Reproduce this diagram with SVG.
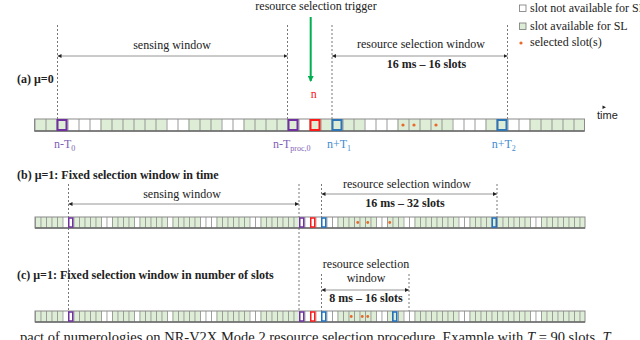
<svg xmlns="http://www.w3.org/2000/svg" width="640" height="340" viewBox="0 0 640 340">
<style>
.serif{font-family:"Liberation Serif","Times New Roman",serif;font-size:12px;fill:#222}
.bold{font-weight:bold}
.sans{font-family:"Liberation Sans",Arial,sans-serif;font-size:11px;fill:#222}
.g{fill:#deedd5}
.bar{fill:none;stroke:#8a8a8a;stroke-width:1}
.barb{stroke:#6a6a6a;stroke-width:1.5}
.dash{stroke:#555;stroke-width:0.8;stroke-dasharray:2,2;fill:none}
.arr{stroke:#8a8a8a;stroke-width:0.9;fill:none;marker-start:url(#ah);marker-end:url(#ah)}
.pA{fill:none;stroke:#7030a0;stroke-width:2}
.rA{fill:none;stroke:#ff1a1a;stroke-width:2}
.bA{fill:none;stroke:#2e75b6;stroke-width:2}
.pB{fill:none;stroke:#7030a0;stroke-width:1.5}
.rB{fill:none;stroke:#ff1a1a;stroke-width:1.5}
.bB{fill:none;stroke:#1f70c0;stroke-width:1.5}
.dot{fill:#e8692a}
.lp{fill:#7f5fb5}
.lb{fill:#3f8ccf}
</style>
<defs>
<marker id="ah" viewBox="0 0 6 6" refX="6" refY="3" markerWidth="4" markerHeight="4" markerUnits="userSpaceOnUse" orient="auto-start-reverse"><path d="M0,0 L6,3 L0,6 z" fill="#222"/></marker>
<marker id="gh" viewBox="0 0 6 6" refX="5" refY="3" markerWidth="6" markerHeight="6" markerUnits="userSpaceOnUse" orient="auto"><path d="M0,0 L6,3 L0,6 z" fill="#00b050"/></marker>
<pattern id="sepA" x="34.5" y="0" width="11" height="340" patternUnits="userSpaceOnUse"><rect x="0" y="0" width="0.9" height="340" fill="#8c8c8c"/></pattern>
<pattern id="sepB" x="35" y="0" width="5.5" height="340" patternUnits="userSpaceOnUse"><rect x="0" y="0" width="0.8" height="340" fill="#8c8c8c"/></pattern>
</defs>

<g id="connectors">
<line class="dash" x1="57.5" y1="25" x2="57.5" y2="119"/>
<line class="dash" x1="287.5" y1="25" x2="287.5" y2="119"/>
<line class="dash" x1="332" y1="25" x2="332" y2="119"/>
<line class="dash" x1="507.5" y1="25" x2="507.5" y2="119"/>
<line class="arr" x1="57.5" y1="56" x2="287.5" y2="56"/>
<line class="arr" x1="332" y1="56" x2="507.5" y2="56"/>
<line x1="310.7" y1="17" x2="310.7" y2="81" stroke="#00b050" stroke-width="2" marker-end="url(#gh)"/>
<line class="dash" x1="68.5" y1="184" x2="68.5" y2="311"/>
<line class="dash" x1="299" y1="184" x2="299" y2="311"/>
<line class="dash" x1="321.5" y1="184" x2="321.5" y2="217"/>
<line class="dash" x1="497" y1="184" x2="497" y2="217"/>
<line class="arr" x1="68.5" y1="204" x2="299" y2="204"/>
<line class="arr" x1="321.5" y1="194" x2="497" y2="194"/>
<line class="dash" x1="321.5" y1="274" x2="321.5" y2="311"/>
<line class="dash" x1="409" y1="274" x2="409" y2="311"/>
<line class="arr" x1="321.5" y1="290" x2="409" y2="290"/>
<polygon points="602.5,105.5 606,107.3 602.5,109" fill="#222"/>
</g>

<g id="trigger">
<text class="serif" x="316" y="9.5" text-anchor="middle">resource selection trigger</text>
<text class="serif" x="313.7" y="98" text-anchor="middle" style="fill:#ff1a1a">n</text>
</g>

<g id="legend">
<rect x="519.5" y="5" width="6.5" height="6.5" fill="#fff" stroke="#777" stroke-width="0.8"/>
<text class="serif" x="530" y="11.5">slot not available for SL</text>
<rect x="519.5" y="23" width="6.5" height="6.5" class="g" stroke="#777" stroke-width="0.8"/>
<text class="serif" x="530" y="29.5">slot available for SL</text>
<circle class="dot" cx="521" cy="43" r="1.6"/>
<text class="serif" x="530" y="46">selected slot(s)</text>
</g>

<g id="row-a">
<text class="serif bold" x="17" y="83">(a) μ=0</text>
<text class="serif" x="172" y="49" text-anchor="middle">sensing window</text>
<text class="serif" x="421" y="48" text-anchor="middle">resource selection window</text>
<text class="serif bold" x="426.5" y="68" text-anchor="middle">16 ms – 16 slots</text>
<text class="sans" x="597" y="119">time</text>
<rect x="34.5" y="119" width="550" height="12" fill="#fff"/>
<rect class="g" x="34.5" y="119" width="33" height="12"/>
<rect class="g" x="100.5" y="119" width="66" height="12"/>
<rect class="g" x="188.5" y="119" width="33" height="12"/>
<rect class="g" x="243.5" y="119" width="55" height="12"/>
<rect class="g" x="309.5" y="119" width="55" height="12"/>
<rect class="g" x="397.5" y="119" width="55" height="12"/>
<rect class="g" x="485.5" y="119" width="22" height="12"/>
<rect class="g" x="529.5" y="119" width="55" height="12"/>
<rect x="34.5" y="119" width="550" height="12" fill="url(#sepA)"/>
<rect class="bar" x="34.5" y="119" width="550" height="12"/>
<line class="barb" x1="34.5" y1="131" x2="584.5" y2="131"/>
<circle class="dot" cx="403" cy="125" r="1.6"/>
<circle class="dot" cx="414" cy="125" r="1.6"/>
<circle class="dot" cx="436" cy="125" r="1.6"/>
<rect class="pA" x="57.5" y="120" width="9" height="10"/>
<rect class="pA" x="288.5" y="120" width="9" height="10"/>
<rect class="rA" x="310.5" y="120" width="9" height="10"/>
<rect class="bA" x="332.5" y="120" width="9" height="10"/>
<rect class="bA" x="497.5" y="120" width="9" height="10"/>
<text class="serif lp" x="54" y="147.5">n-T<tspan font-size="8" dy="3">0</tspan></text>
<text class="serif lp" x="273" y="147.5">n-T<tspan font-size="8" dy="3">proc,0</tspan></text>
<text class="serif lb" x="327" y="147.5">n+T<tspan font-size="8" dy="3">1</tspan></text>
<text class="serif lb" x="491.7" y="147.5">n+T<tspan font-size="8" dy="3">2</tspan></text>
</g>

<g id="row-b">
<text class="serif bold" x="17" y="178.5">(b) μ=1: Fixed selection window in time</text>
<text class="serif" x="182" y="198" text-anchor="middle">sensing window</text>
<text class="serif" x="407" y="188" text-anchor="middle">resource selection window</text>
<text class="serif bold" x="405" y="207" text-anchor="middle">16 ms – 32 slots</text>
<rect x="35" y="217" width="550" height="11" fill="#fff"/>
<g class="g">
<rect x="35" y="217" width="27.5" height="11"/>
<rect x="73.5" y="217" width="27.5" height="11"/>
<rect x="112" y="217" width="22" height="11"/>
<rect x="139.5" y="217" width="27.5" height="11"/>
<rect x="172.5" y="217" width="27.5" height="11"/>
<rect x="216.5" y="217" width="33" height="11"/>
<rect x="260.5" y="217" width="38.5" height="11"/>
<rect x="337.5" y="217" width="38.5" height="11"/>
<rect x="387" y="217" width="16.5" height="11"/>
<rect x="414.5" y="217" width="44" height="11"/>
<rect x="469.5" y="217" width="60.5" height="11"/>
<rect x="541" y="217" width="44" height="11"/>
</g>
<rect x="35" y="217" width="550" height="11" fill="url(#sepB)"/>
<rect class="bar" x="35" y="217" width="550" height="11"/>
<line class="barb" x1="35" y1="228" x2="585" y2="228"/>
<circle class="dot" cx="357.75" cy="222.5" r="1.4"/>
<circle class="dot" cx="367.75" cy="222.5" r="1.4"/>
<circle class="dot" cx="389.75" cy="222.5" r="1.4"/>
<rect class="pB" x="68.75" y="218" width="4" height="9"/>
<rect class="pB" x="299.75" y="218" width="4" height="9"/>
<rect class="rB" x="310.75" y="218" width="4" height="9"/>
<rect class="bB" x="321.75" y="218" width="4" height="9"/>
<rect class="bB" x="492.25" y="218" width="4" height="9"/>
</g>

<g id="row-c">
<text class="serif bold" x="17" y="278.5">(c) μ=1: Fixed selection window in number of slots</text>
<text class="serif" x="366" y="268" text-anchor="middle">resource selection</text>
<text class="serif" x="366" y="282" text-anchor="middle">window</text>
<text class="serif bold" x="366" y="302" text-anchor="middle">8 ms – 16 slots</text>
<rect x="35" y="311" width="550" height="11" fill="#fff"/>
<g class="g">
<rect x="35" y="311" width="27.5" height="11"/>
<rect x="73.5" y="311" width="27.5" height="11"/>
<rect x="112" y="311" width="22" height="11"/>
<rect x="139.5" y="311" width="27.5" height="11"/>
<rect x="172.5" y="311" width="27.5" height="11"/>
<rect x="216.5" y="311" width="33" height="11"/>
<rect x="260.5" y="311" width="38.5" height="11"/>
<rect x="337.5" y="311" width="38.5" height="11"/>
<rect x="387" y="311" width="16.5" height="11"/>
<rect x="414.5" y="311" width="44" height="11"/>
<rect x="469.5" y="311" width="60.5" height="11"/>
<rect x="541" y="311" width="44" height="11"/>
</g>
<rect x="35" y="311" width="550" height="11" fill="url(#sepB)"/>
<rect class="bar" x="35" y="311" width="550" height="11"/>
<line class="barb" x1="35" y1="322" x2="585" y2="322"/>
<circle class="dot" cx="351.25" cy="316.5" r="1.4"/>
<circle class="dot" cx="362.25" cy="316.5" r="1.4"/>
<circle class="dot" cx="367.75" cy="316.5" r="1.4"/>
<rect class="pB" x="68.75" y="312" width="4" height="9"/>
<rect class="pB" x="299.75" y="312" width="4" height="9"/>
<rect class="rB" x="310.75" y="312" width="4" height="9"/>
<rect class="bB" x="321.75" y="312" width="4" height="9"/>
<rect class="bB" x="392.75" y="312" width="4" height="9"/>
</g>

<g id="caption">
<text class="serif" x="20" y="342" style="font-size:14.5px">pact of numerologies on NR-V2X Mode 2 resource selection procedure. Example with <tspan font-style="italic">T</tspan>    = 90 slots, <tspan font-style="italic">T</tspan></text>
</g>
</svg>
